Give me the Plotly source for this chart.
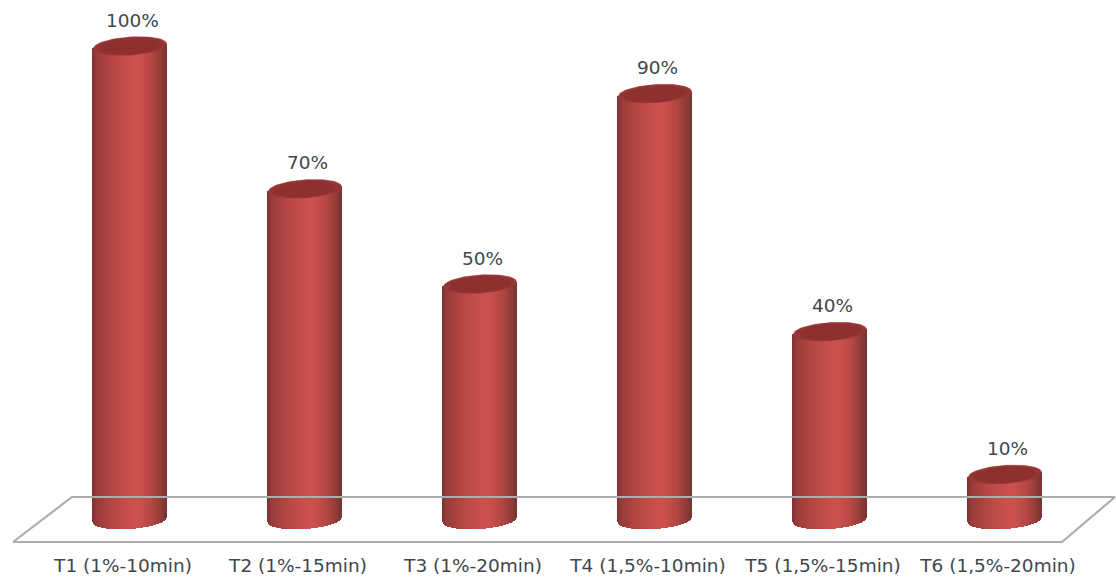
import numpy as np
import plotly.graph_objects as go

categories = ["T1 (1%-10min)", "T2 (1%-15min)", "T3 (1%-20min)",
              "T4 (1,5%-10min)", "T5 (1,5%-15min)", "T6 (1,5%-20min)"]
values = [100, 70, 50, 90, 40, 10]

# Pixel scales of the plot area: one category step and one percent point
PX_X = 175.0
PX_Y = 4.76
W, H, BOTTOM = 1116, 581, 30
X_MIN = -130.0 / PX_X
X_MAX = X_MIN + W / PX_X
Y_MIN = -(H - BOTTOM - 522) / PX_Y
Y_MAX = 522 / PX_Y

# Cylinder geometry, expressed in axis units
HALF_PX = 36.5
HALF_W = HALF_PX / PX_X
ELL_B = 9.0 / PX_Y
TILT = 0.065 * PX_X / PX_Y  # rise of the ellipse axis per unit of x
BASE_LIFT = 2.0 / PX_Y
TEXT_COLOR = "#3f474c"
TEXT_FONT = "DejaVu Sans"
TEXT_SIZE = 18.5


def shade(t):
    """Horizontal lighting across the cylinder, t from -1 to 1."""
    stops_t = [-1.0, -0.88, -0.5, 0.0, 0.25, 0.6, 0.88, 1.0]
    r = [130, 152, 180, 200, 204, 182, 146, 122]
    g = [52, 60, 70, 80, 82, 72, 60, 54]
    b = [52, 58, 66, 76, 78, 68, 56, 54]
    return "rgb(%d,%d,%d)" % tuple(np.interp(t, stops_t, c) for c in (r, g, b))


def half_height(t):
    return ELL_B * np.sqrt(np.clip(1 - t * t, 0, 1))


strip_x, strip_base, strip_h, strip_c = [], [], [], []
STEP = 1 / PX_X
offsets = np.arange(-HALF_PX, HALF_PX + 0.5, 1.0) / PX_X
for i, v in enumerate(values):
    for dx in offsets:
        t = dx / HALF_W
        tilt_y = TILT * dx
        low = tilt_y - half_height(t) + BASE_LIFT
        top = v + tilt_y
        strip_x.append(i + dx)
        strip_base.append(low)
        strip_h.append(top - low)
        strip_c.append(shade(t))

fig = go.Figure()

# Floor of the chart, outlined behind the cylinders
floor_x = np.array([13, 72, 1115, 1062, 13]) / PX_X + X_MIN
floor_y = (522 - np.array([542, 497, 497, 542, 542])) / PX_Y
fig.add_trace(go.Scatter(x=floor_x, y=floor_y, mode="lines",
                         line=dict(color="#adadad", width=2.2), hoverinfo="skip"))

# Cylinder bodies as narrow shaded strips
fig.add_trace(go.Bar(x=strip_x, y=strip_h, base=strip_base, width=STEP * 1.02,
                     marker=dict(color=strip_c, line=dict(width=0)), hoverinfo="skip"))

# Cylinder caps: nested ellipses give the soft darkening towards the middle
theta = np.linspace(0, 2 * np.pi, 90)
cap_layers = [(1.0, 0.0, "#9e3b39"), (0.96, -0.2, "#953534"), (0.84, -0.5, "#8e3030")]
for i, v in enumerate(values):
    for scale, drop, color in cap_layers:
        ex = scale * HALF_W * np.cos(theta)
        ey = scale * ELL_B * np.sin(theta) + TILT * ex + drop / PX_Y
        fig.add_trace(go.Scatter(x=i + ex, y=v + ey, mode="lines", fill="toself",
                                 fillcolor=color, line=dict(color=color, width=0.5),
                                 hoverinfo="skip"))

for i, v in enumerate(values):
    fig.add_annotation(x=i, y=v, text=f"{v}%", showarrow=False, xshift=2, yshift=26,
                       font=dict(family=TEXT_FONT, size=TEXT_SIZE, color=TEXT_COLOR))

fig.update_layout(
    width=W, height=H, showlegend=False, bargap=0,
    margin=dict(l=0, r=0, t=0, b=BOTTOM),
    paper_bgcolor="white", plot_bgcolor="white",
    xaxis=dict(range=[X_MIN, X_MAX], tickmode="array",
               tickvals=[i - 7 / PX_X for i in range(len(categories))],
               ticktext=categories, showgrid=False, zeroline=False, showline=False,
               ticks="", tickangle=0, ticklabelstandoff=1,
               tickfont=dict(family=TEXT_FONT, size=TEXT_SIZE, color=TEXT_COLOR)),
    yaxis=dict(range=[Y_MIN, Y_MAX], visible=False),
)

fig.write_html("out.html", config=dict(displayModeBar=False))
